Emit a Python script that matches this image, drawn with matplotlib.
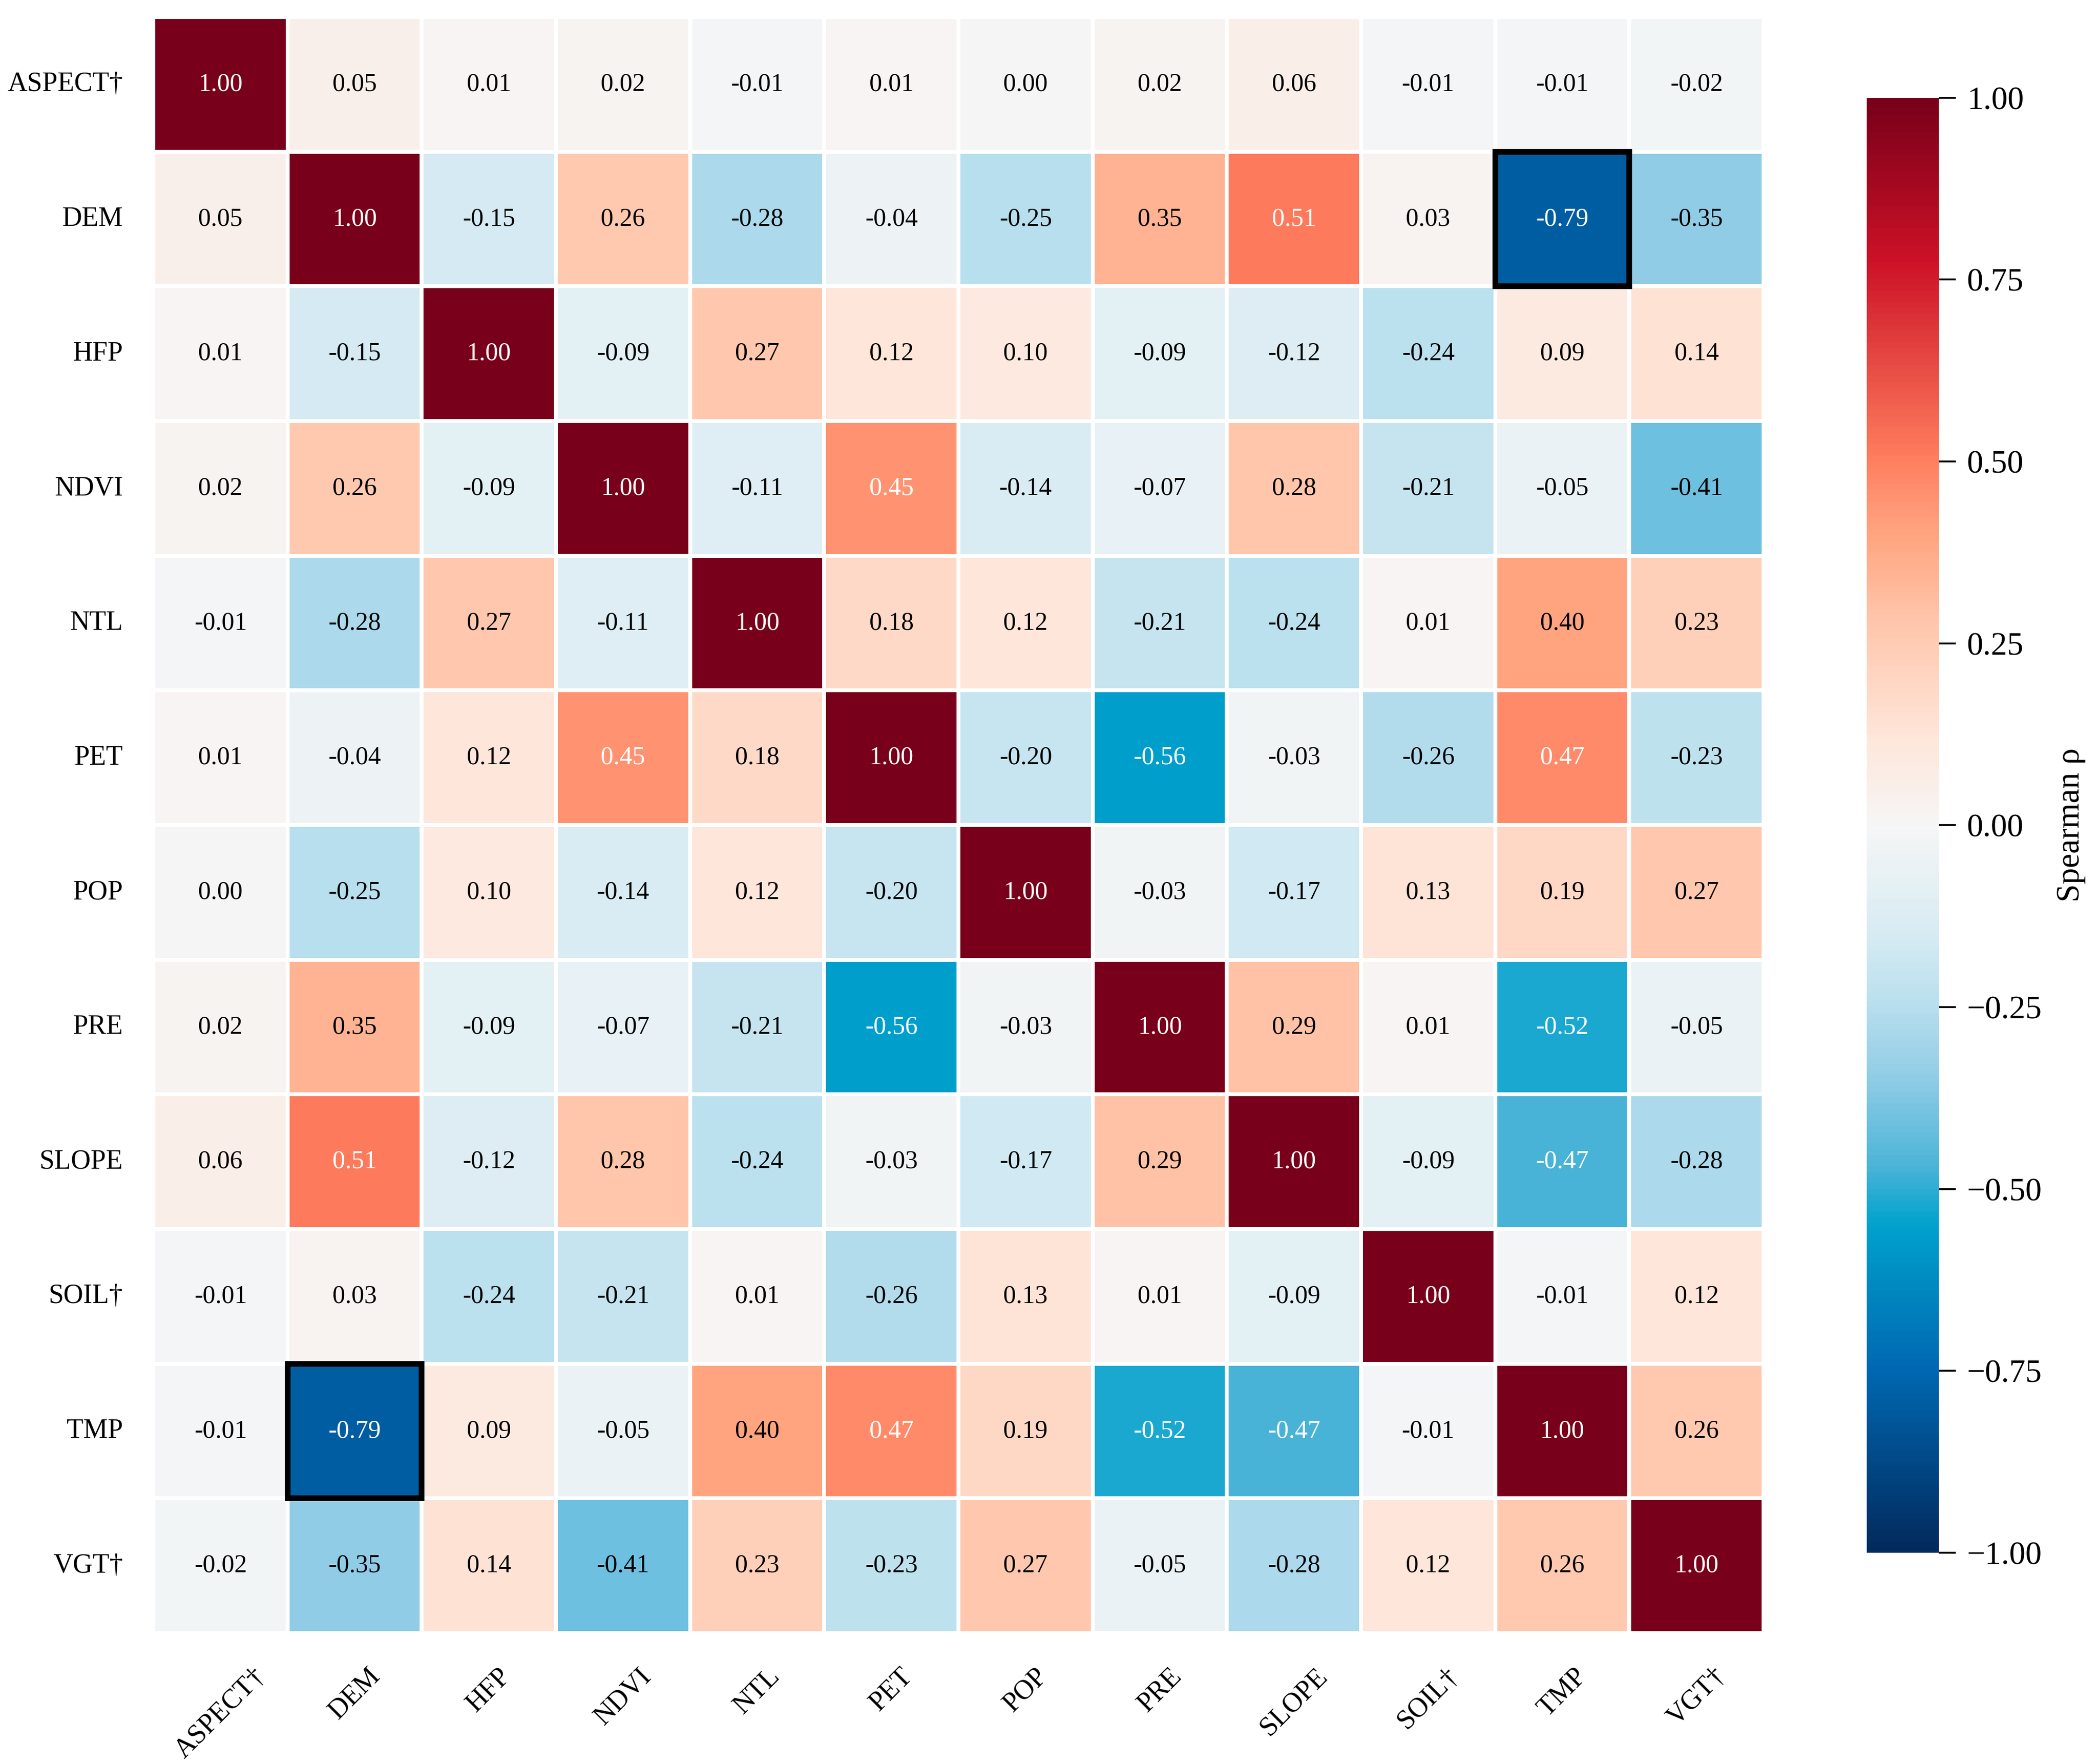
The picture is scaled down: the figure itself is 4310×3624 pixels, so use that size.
import numpy as np
import matplotlib
matplotlib.use("Agg")
import matplotlib.pyplot as plt
import seaborn as sns
from matplotlib.colors import LinearSegmentedColormap
from matplotlib.patches import Rectangle
from matplotlib.ticker import FuncFormatter

plt.rcParams['font.family'] = ['Liberation Serif', 'DejaVu Serif']

labels = ["ASPECT†", "DEM", "HFP", "NDVI", "NTL", "PET", "POP", "PRE",
          "SLOPE", "SOIL†", "TMP", "VGT†"]

rho = np.array([
    [1.00, 0.05, 0.01, 0.02, -0.01, 0.01, 0.00, 0.02, 0.06, -0.01, -0.01, -0.02],
    [0.05, 1.00, -0.15, 0.26, -0.28, -0.04, -0.25, 0.35, 0.51, 0.03, -0.79, -0.35],
    [0.01, -0.15, 1.00, -0.09, 0.27, 0.12, 0.10, -0.09, -0.12, -0.24, 0.09, 0.14],
    [0.02, 0.26, -0.09, 1.00, -0.11, 0.45, -0.14, -0.07, 0.28, -0.21, -0.05, -0.41],
    [-0.01, -0.28, 0.27, -0.11, 1.00, 0.18, 0.12, -0.21, -0.24, 0.01, 0.40, 0.23],
    [0.01, -0.04, 0.12, 0.45, 0.18, 1.00, -0.20, -0.56, -0.03, -0.26, 0.47, -0.23],
    [0.00, -0.25, 0.10, -0.14, 0.12, -0.20, 1.00, -0.03, -0.17, 0.13, 0.19, 0.27],
    [0.02, 0.35, -0.09, -0.07, -0.21, -0.56, -0.03, 1.00, 0.29, 0.01, -0.52, -0.05],
    [0.06, 0.51, -0.12, 0.28, -0.24, -0.03, -0.17, 0.29, 1.00, -0.09, -0.47, -0.28],
    [-0.01, 0.03, -0.24, -0.21, 0.01, -0.26, 0.13, 0.01, -0.09, 1.00, -0.01, 0.12],
    [-0.01, -0.79, 0.09, -0.05, 0.40, 0.47, 0.19, -0.52, -0.47, -0.01, 1.00, 0.26],
    [-0.02, -0.35, 0.14, -0.41, 0.23, -0.23, 0.27, -0.05, -0.28, 0.12, 0.26, 1.00],
])

# colour nodes (value, colour)
cmap_nodes = [
    (-1.00, "#022a5c"), (-0.75, "#0068b2"), (-0.55, "#00a2cc"),
    (-0.47, "#4cb4d8"), (-0.35, "#90cce6"), (-0.24, "#bbe0ee"),
    (-0.14, "#d9ecf3"), (0.00, "#f6f6f6"), (0.12, "#fee6da"),
    (0.28, "#ffc6ab"), (0.40, "#ffa580"), (0.47, "#ff8c6c"),
    (0.51, "#fe7c5d"), (0.78, "#cc1126"), (1.00, "#78001a"),
]
cmap = LinearSegmentedColormap.from_list(
    "rho", [((v + 1) / 2, c) for v, c in cmap_nodes])

fig = plt.figure(figsize=(4310 / 300, 3624 / 300), dpi=300)
ax = fig.add_axes([0.0731, 0.0742, 0.7675, 0.9161])
cax = fig.add_axes([0.8898, 0.1198, 0.0343, 0.8248])

sns.heatmap(rho, ax=ax, cbar_ax=cax, cmap=cmap, vmin=-1, vmax=1,
            annot=True, fmt=".2f", annot_kws={"size": 12.5},
            linewidths=1.5, linecolor="white",
            xticklabels=labels, yticklabels=labels)

# text colour
n = len(labels)
for t, v in zip(ax.texts, rho.flatten()):
    t.set_color("white" if abs(v) > 0.43 else "black")

# highlight strongest off-diagonal pair
off = np.abs(rho) - np.eye(n) * 10
i, j = np.unravel_index(np.argmax(off), off.shape)
for r, c in [(i, j), (j, i)]:
    ax.add_patch(Rectangle((c, r), 1, 1, fill=False, edgecolor="black",
                           lw=2.8, clip_on=False, zorder=5))

ax.set_xticklabels(labels, rotation=45, ha="center", fontsize=13.5)
ax.set_yticklabels(labels, rotation=0, fontsize=13.5)
ax.tick_params(axis="x", length=0, pad=15)
ax.tick_params(axis="y", length=0, pad=15)

cbar = ax.collections[0].colorbar
cbar.set_ticks([-1, -0.75, -0.5, -0.25, 0, 0.25, 0.5, 0.75, 1])
cbar.ax.yaxis.set_major_formatter(
    FuncFormatter(lambda v, p: f"{v:.2f}".replace("-", "\u2212")))
cbar.ax.tick_params(labelsize=16, length=8.4, width=0.9, pad=5.5)
cbar.set_label("Spearman ρ", fontsize=16, labelpad=7)
cbar.outline.set_linewidth(0)

fig.savefig("out.png", dpi=300)
